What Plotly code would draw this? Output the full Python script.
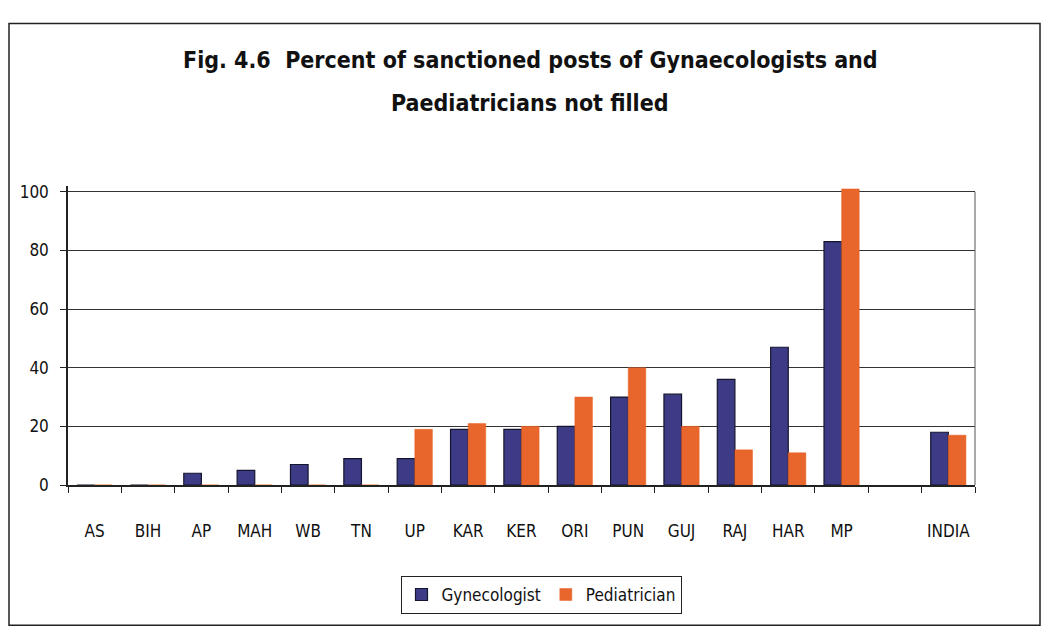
import plotly.graph_objects as go

# States (with a blank slot before the national figure)
states = ["AS", "BIH", "AP", "MAH", "WB", "TN", "UP", "KAR", "KER", "ORI",
          "PUN", "GUJ", "RAJ", "HAR", "MP", " ", "INDIA"]

# Percent of sanctioned posts not filled
gynecologist = [0, 0, 4, 5, 7, 9, 9, 19, 19, 20, 30, 31, 36, 47, 83, None, 18]
pediatrician = [0, 0, 0, 0, 0, 0, 19, 21, 20, 30, 40, 20, 12, 11, 101, None, 17]

y_ticks = [0, 20, 40, 60, 80, 100]

NARROW = "DejaVu Sans Condensed, Liberation Sans Narrow, Arial Narrow, sans-serif"

fig = go.Figure()
fig.add_trace(go.Bar(
    x=states, y=gynecologist, name="Gynecologist",
    marker=dict(color="#3d3b86", line=dict(color="#15152e", width=1.2)),
))
fig.add_trace(go.Bar(
    x=states, y=pediatrician, name="Pediatrician",
    marker=dict(color="#e8652b", line=dict(color="#e8652b", width=0.5)),
))

# Plot area: x 68..975 px; value 0 at y=495 px, value 100 at y=192 px
Y_MAX = 102
L, R, B = 68, 975, 495
unit = (495 - 192) / 100
T = B - unit * Y_MAX
W, H = 1044, 626
pw, ph = R - L, B - T


def px_x(x):
    return (x - L) / pw


def px_y(y):
    return (B - y) / ph


fig.update_layout(
    width=W, height=H,
    margin=dict(l=L, r=W - R, t=T, b=H - B, pad=0),
    paper_bgcolor="white", plot_bgcolor="white",
    barmode="group", bargap=0.34, bargroupgap=0.0,
    showlegend=True,
    legend=dict(
        orientation="h", x=px_x(541), xanchor="center",
        y=px_y(589), yanchor="top", yref="paper",
        bordercolor="#222222", borderwidth=1,
        font=dict(family=NARROW, size=17, color="#111111"),
        tracegroupgap=0, itemwidth=30,
    ),
    font=dict(family=NARROW, color="#111111"),
)

fig.update_xaxes(
    type="category", categoryorder="array", categoryarray=states,
    showline=True, linecolor="#222222", linewidth=1.5,
    ticks="outside", tickson="boundaries", ticklen=6, tickcolor="#222222",
    tickfont=dict(family=NARROW, size=17, color="#111111"),
    tickangle=0, ticklabelstandoff=30,
    showgrid=False, zeroline=False,
)
fig.update_yaxes(
    range=[0, Y_MAX], tickvals=y_ticks, ticktext=[str(v) for v in y_ticks],
    showline=True, linecolor="#222222", linewidth=1.5,
    ticks="outside", ticklen=6, tickcolor="#222222",
    tickfont=dict(family=NARROW, size=17, color="#111111"),
    ticklabelstandoff=8,
    showgrid=True, gridcolor="#333333", gridwidth=1,
    zeroline=False,
)

# Chart frame
fig.add_shape(type="rect", xref="paper", yref="paper",
              x0=px_x(9), x1=px_x(1040), y0=px_y(640), y1=px_y(18),
              line=dict(color="#222222", width=1.5), fillcolor="rgba(0,0,0,0)",
              layer="below")
# Right edge of the plot area, up to the top gridline
fig.add_shape(type="line", xref="paper", yref="y",
              x0=1, x1=1, y0=0, y1=100, line=dict(color="#555555", width=1))

# Two-line title
title_lines = ["Fig. 4.6  Percent of sanctioned posts of Gynaecologists and",
               "Paediatricians not filled"]
for line, ypix in zip(title_lines, [56, 100]):
    fig.add_annotation(
        text="<b>" + line + "</b>", xref="paper", yref="paper",
        x=px_x(530), y=px_y(ypix), xanchor="center", yanchor="middle",
        showarrow=False, font=dict(family=NARROW, size=23, color="#111111"),
    )

fig.write_html("out.html")
